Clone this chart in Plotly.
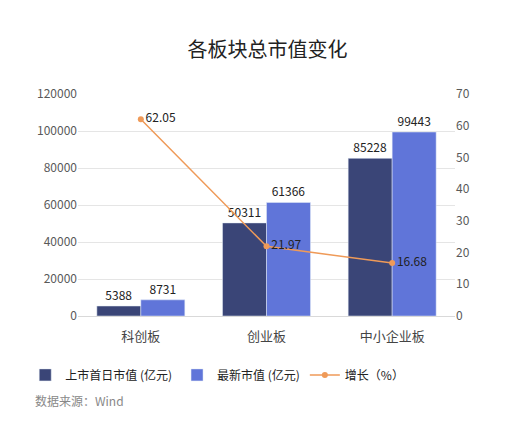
import plotly.graph_objects as go

categories = ["科创板", "创业板", "中小企业板"]
first_day = [5388, 50311, 85228]
latest = [8731, 61366, 99443]
growth = [62.05, 21.97, 16.68]

font = "Noto Sans CJK SC"

fig = go.Figure()
fig.add_trace(go.Bar(x=categories, y=first_day, name="上市首日市值 (亿元)",
                     marker_color="#3a4577", text=first_day, textposition="outside",
                     textfont=dict(size=12, color="#222"), cliponaxis=False))
fig.add_trace(go.Bar(x=categories, y=latest, name="最新市值 (亿元)",
                     marker_color="#6075d9", text=latest, textposition="outside",
                     textfont=dict(size=12, color="#222"), cliponaxis=False))
fig.add_trace(go.Scatter(x=categories, y=growth, name="增长（%）", yaxis="y2",
                         mode="lines+markers+text", text=[f"{g:.2f}" for g in growth],
                         textposition="middle right", textfont=dict(size=12, color="#222"),
                         line=dict(color="#ef9a58", width=1.5),
                         marker=dict(color="#ef9a58", size=6)))

fig.update_layout(
    width=519, height=436,
    font=dict(family=font, color="#595959"),
    title=dict(text="各板块总市值变化", x=0.5, y=0.92, xanchor="center",
               font=dict(size=20, color="#222")),
    paper_bgcolor="white", plot_bgcolor="white",
    margin=dict(l=70, r=72, t=86, b=128),
    bargap=0.3, bargroupgap=0.0,
    xaxis=dict(tickfont=dict(size=13, color="#444"), showline=True, linecolor="#d9d9d9",
               ticks="outside", ticklen=8, tickcolor="white"),
    yaxis=dict(range=[0, 120000], dtick=20000, gridcolor="#e5e5e5", tickformat="d",
               tickfont=dict(size=12), zeroline=False),
    yaxis2=dict(range=[0, 70], dtick=10, overlaying="y", side="right",
                showgrid=False, tickfont=dict(size=12), zeroline=False),
    legend=dict(orientation="h", x=-0.14, xanchor="left", y=-0.2, yanchor="top",
                font=dict(size=12, color="#222"), itemwidth=30, tracegroupgap=0),
    showlegend=True,
)
fig.add_annotation(text="数据来源：Wind", xref="paper", yref="paper", x=-0.12, y=-0.43,
                   xanchor="left", showarrow=False, font=dict(size=12, color="#888"))

fig.write_html("out.html")
